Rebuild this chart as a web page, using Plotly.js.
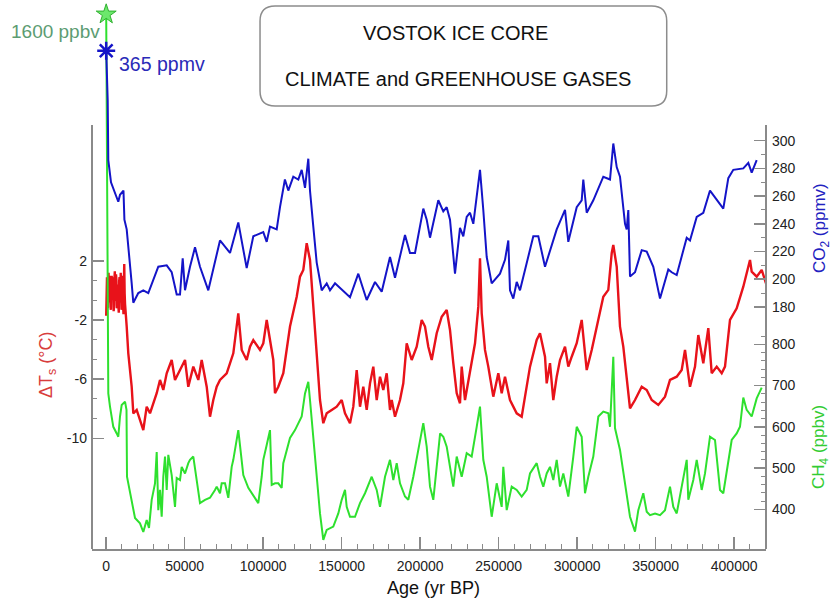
<!DOCTYPE html>
<html>
<head>
<meta charset="utf-8">
<script src="https://cdn.plot.ly/plotly-3.0.1.min.js"></script>
<style>html,body{margin:0;padding:0;background:#fff;}#chart{width:831px;height:600px;}</style>
</head>
<body>
<div id="chart"></div>
<script>
// ---- Data ----
const co2Age = [0,955,1340,3060,6690,7710,8790,11000,11600,13060,16240,17260,20450,23630,26820,30000,33190,38540,41720,44910,47010,48730,50200,53380,56570,59750,65040,72490,78860,84150,89500,93700,100070,102240,104340,108610,110710,113840,116000,119180,122370,124530,126640,128740,129820,131920,134090,137270,140460,142560,145750,155300,160590,165940,171230,175490,180780,183970,190340,193520,196710,202000,204160,206260,211550,214730,216900,219000,222180,225370,227470,229640,231740,233840,238110,240210,242380,245560,250850,254030,256140,257220,259320,261490,263590,272060,275250,279520,286970,292260,294360,299710,302890,303910,306080,310280,316650,320920,323020,325190,327290,330480,331560,332580,333660,336850,341120,344300,348510,352780,358060,360220,363410,369780,371880,376150,380350,384620,388890,393090,396280,399460,405830,409020,411180,414360];
const co2Val = [365,329,286,270,259,256,261,264,243,236,197,183,190,192,190,199,209,210,205,189,189,215,192,209,223,209,192,228,219,241,208,231,234,227,238,236,252,272,264,274,272,279,266,287,264,238,212,192,197,192,197,187,204,185,198,191,216,201,232,219,219,251,243,230,257,249,252,243,204,237,231,245,248,240,279,250,216,197,204,214,228,192,186,198,192,231,231,209,236,250,227,252,257,272,248,257,274,272,298,281,274,240,236,250,202,205,221,220,209,186,207,205,203,230,228,245,248,264,257,251,273,279,280,284,277,286];

const tempAge = [0,250,500,750,1000,1250,1500,1750,2000,2250,2500,2750,3000,3250,3500,3750,4000,4250,4500,4750,5000,5250,5500,5750,6000,6250,6500,6750,7000,7250,7500,7750,8000,8250,8500,8750,9000,9250,9500,9750,10000,10250,10500,10750,11000,11250,11500,11750,12000,13060,14080,16240,17260,19430,21530,23630,25800,27900,32170,34270,36370,38540,41720,43830,47010,50200,52300,55480,58670,60830,64020,66120,68220,70390,72490,76760,80960,84150,86310,89500,91600,93700,97970,100070,102240,104340,106440,107520,109630,112810,114980,117080,121350,123450,125550,127720,129820,131920,134090,135110,136190,138290,140460,143640,146830,150010,152120,155300,157400,159570,161670,163770,165940,168040,170140,172310,174410,176510,178680,180780,181860,183970,187150,189250,191420,194600,197790,200970,203080,205180,207350,210530,213710,216900,219000,221100,223270,225370,226450,228560,231740,234930,237030,238110,239190,241290,243390,246580,249770,251930,254030,257220,261490,264670,266780,269960,274230,276330,279520,280600,282700,284800,286970,289070,292260,294360,296530,299710,302890,305000,306080,309270,313470,316650,319840,322000,323020,325190,327290,329390,333660,336850,341120,344300,347490,351690,355960,359140,363410,366590,368700,371880,375070,377170,380350,383540,385700,388890,392070,394170,397360,401620,405830,410100,411180,414360,417550,420290];
const tempVal = [-1.7,0.2,0.9,-0.9,-1.2,0.6,1.2,-0.3,-0.8,1.0,0.5,-1.1,-1.3,0.3,1.0,-0.2,-0.6,0.9,0.6,-1.4,-1.0,0.8,1.3,-0.7,-0.4,1.1,0.7,-1.2,-1.1,0.2,0.4,-1.0,-1.5,0.6,0.9,-0.8,-0.5,1.2,0.2,-1.3,-1.2,0.3,1.0,-0.9,-1.6,0.5,1.8,-0.2,-0.9,-2.44,-4.25,-6.51,-8.31,-8.08,-8.76,-9.44,-7.86,-8.31,-6.95,-6.05,-6.73,-5.60,-4.70,-6.05,-5.38,-4.70,-6.51,-5.15,-6.05,-4.70,-6.51,-8.54,-7.41,-6.51,-6.05,-5.60,-4.25,-1.54,-4.02,-4.70,-3.80,-3.35,-4.02,-3.57,-1.99,-3.35,-4.70,-6.95,-6.51,-5.60,-4.02,-2.44,-0.42,0.94,1.39,3.20,2.07,-1.09,-4.02,-5.60,-7.41,-8.98,-8.31,-8.08,-7.86,-7.41,-8.31,-8.98,-7.86,-5.38,-7.86,-6.51,-8.08,-6.28,-5.15,-7.41,-5.83,-6.73,-5.60,-8.08,-7.41,-8.54,-7.41,-6.28,-3.57,-4.70,-3.80,-1.99,-2.44,-3.80,-4.70,-2.89,-1.77,-1.32,-2.67,-4.92,-6.95,-7.63,-5.15,-7.41,-5.38,-3.57,-1.09,2.18,-1.54,-4.02,-5.15,-7.18,-5.60,-6.95,-5.83,-7.41,-8.31,-8.54,-7.18,-5.15,-3.35,-2.89,-4.48,-6.28,-4.92,-7.41,-5.83,-4.70,-3.80,-5.15,-4.48,-3.57,-1.99,-4.02,-5.38,-4.02,-1.99,-0.42,0.04,2.52,3.08,1.61,-2.44,-3.80,-7.97,-7.41,-6.51,-6.73,-7.41,-7.74,-7.18,-6.05,-5.83,-5.38,-4.02,-6.51,-5.15,-3.01,-4.92,-2.55,-5.60,-5.15,-5.60,-5.15,-1.99,-1.20,0.26,2.07,1.28,0.94,1.39,0.49];

const ch4Age = [0,1000,1340,2420,4520,6690,7710,8790,9870,11980,12930,13250,14080,16240,18350,21530,23630,25800,27260,28980,31090,32170,33190,34270,35350,36370,37460,38540,39560,41720,42740,43830,44910,47010,48090,50200,52300,53380,55480,58670,59750,62940,66120,69300,70390,72490,73570,75680,77780,79940,80960,84150,87330,90520,93700,96890,99050,100070,102240,104340,105420,107520,109630,111780,112810,114980,117080,120270,122370,124530,126640,128740,129820,131920,134090,136190,138290,140460,144660,147850,150010,152120,153200,155300,158490,161670,164860,169120,172310,174410,177600,180780,182880,185050,187150,190340,192440,195620,198810,201990,204160,206260,208360,210530,212700,214730,216900,219000,221100,223270,226450,229640,232820,236010,238110,240210,242380,245560,248750,251930,252950,255120,258300,261490,264670,267860,269960,274230,276330,278430,280600,282700,284800,286970,289070,291170,294360,297540,299710,302890,305000,307100,310280,313470,316650,319840,320920,323020,324100,327290,330480,333660,336850,338950,342130,344300,346410,349600,352780,355960,359140,361240,363410,365510,369780,370800,373980,376150,379330,381440,384620,387800,390990,393090,396280,398440,401620,403720,405830,407990,411180,414360,417550];
const ch4Val = [1600,700,681,649,600,584,576,625,653,661,641,479,464,423,379,366,345,374,355,423,463,539,398,447,382,479,528,447,532,483,435,406,476,471,503,487,512,520,528,435,415,423,428,447,455,439,463,463,428,503,520,592,483,452,435,415,479,520,556,592,459,463,463,452,512,544,573,592,609,625,681,709,665,568,479,390,326,350,358,390,423,447,406,382,382,415,439,479,447,406,479,520,471,512,463,431,423,479,544,609,552,455,423,503,584,576,552,503,455,528,479,536,528,600,649,520,479,382,463,406,503,398,455,447,431,447,487,512,479,455,487,503,471,520,455,487,431,528,600,576,439,479,528,625,637,633,600,770,597,544,459,382,346,398,439,394,386,390,386,398,455,406,390,431,520,423,471,520,447,487,576,568,447,439,512,568,584,600,671,641,625,669,695];

// present-day markers
const starAge = [0];
const co2Now = [365];
const ch4Now = [1600];

// tick labels
const ageTicks = [0,50000,100000,150000,200000,250000,300000,350000,400000];
const ageTickText = ['0','50000','100000','150000','200000','250000','300000','350000','400000'];
const ageMinor = [10000,20000,30000,40000,60000,70000,80000,90000,110000,120000,130000,140000,160000,170000,180000,190000,210000,220000,230000,240000,260000,270000,280000,290000,310000,320000,330000,340000,360000,370000,380000,390000,410000];
const tempTicks = [2,-2,-6,-10];
const tempTickText = ['2','-2','-6','-10'];
const tempMinor = [0.667,-0.667,-3.333,-4.667,-7.333,-8.667];
const co2Ticks = [180,200,220,240,260,280,300];
const co2Minor = [190,210,230,250,270,290];
const ch4Ticks = [400,500,600,700,800];
const ch4Minor = [420,440,460,480,520,540,560,580,620,640,660,680,720,740,760,780,820];

const FONT = 'Liberation Sans, Arial, Helvetica, sans-serif';
const AX = '#8a8a8a';

// CH4 on y2 and CO2 on y3 so that the CO2 curve is painted above the CH4 curve
const traces = [
  {x: tempAge, y: tempVal, yaxis: 'y', mode: 'lines', line: {color: '#e8121a', width: 2.4}, hoverinfo: 'skip'},
  {x: ch4Age, y: ch4Val, yaxis: 'y2', mode: 'lines', line: {color: '#2ee02e', width: 2}, hoverinfo: 'skip'},
  {x: starAge, y: ch4Now, yaxis: 'y2', mode: 'markers', cliponaxis: false,
   marker: {symbol: 'star', size: 15, color: '#6ce86c', line: {color: '#2fb02f', width: 1}}, hoverinfo: 'skip'},
  {x: co2Age, y: co2Val, yaxis: 'y3', mode: 'lines', line: {color: '#1414c8', width: 2}, hoverinfo: 'skip'},
  {x: starAge, y: co2Now, yaxis: 'y3', mode: 'markers', cliponaxis: false,
   marker: {symbol: 'asterisk-open', size: 15, color: '#1414c8', line: {color: '#1414c8', width: 2.5}}, hoverinfo: 'skip'}
];

const tickFont = {family: FONT, size: 14, color: '#222'};

function rrect(x0, x1, y0, y1, rx, ry) {
  return `M ${x0+rx},${y1} L ${x1-rx},${y1} Q ${x1},${y1} ${x1},${y1-ry} L ${x1},${y0+ry} Q ${x1},${y0} ${x1-rx},${y0} L ${x0+rx},${y0} Q ${x0},${y0} ${x0},${y0+ry} L ${x0},${y1-ry} Q ${x0},${y1} ${x0+rx},${y1} Z`;
}

function note(x, y, text, size, color, extra) {
  return Object.assign({xref: 'paper', yref: 'paper', x: x, y: y, text: text, showarrow: false,
    xanchor: 'center', yanchor: 'middle', font: {family: FONT, size: size, color: color}}, extra || {});
}

const layout = {
  width: 831, height: 600,
  margin: {l: 92, r: 65, t: 5, b: 51},
  paper_bgcolor: '#fff', plot_bgcolor: '#fff',
  showlegend: false,
  xaxis: {
    range: [-9045, 420290], tickmode: 'array', tickvals: ageTicks, ticktext: ageTickText,
    ticks: 'inside', ticklen: 12, tickwidth: 1.5, tickcolor: AX,
    minor: {tickmode: 'array', tickvals: ageMinor, ticks: 'inside', ticklen: 5, tickwidth: 1, tickcolor: AX},
    showline: true, linecolor: AX, linewidth: 2, showgrid: false, zeroline: false,
    tickfont: tickFont, ticklabelstandoff: 3, fixedrange: true
  },
  yaxis: {
    range: [-17.49, 19.32], tickmode: 'array', tickvals: tempTicks, ticktext: tempTickText,
    ticks: 'inside', ticklen: 12, tickwidth: 1.5, tickcolor: AX,
    minor: {tickmode: 'array', tickvals: tempMinor, ticks: 'inside', ticklen: 5, tickwidth: 1, tickcolor: AX},
    showline: false, showgrid: false, zeroline: false, tickfont: tickFont, ticklabelstandoff: 4, fixedrange: true
  },
  yaxis2: {
    overlaying: 'y', side: 'right', anchor: 'x',
    range: [303.8, 1622.6], tickmode: 'array', tickvals: ch4Ticks,
    ticks: 'inside', ticklen: 12, tickwidth: 1.5, tickcolor: AX,
    minor: {tickmode: 'array', tickvals: ch4Minor, ticks: 'inside', ticklen: 5, tickwidth: 1, tickcolor: AX},
    showline: false, showgrid: false, zeroline: false, tickfont: tickFont, ticklabelstandoff: 5, fixedrange: true
  },
  yaxis3: {
    overlaying: 'y', side: 'right', anchor: 'x',
    range: [5.2, 398], tickmode: 'array', tickvals: co2Ticks,
    ticks: 'inside', ticklen: 12, tickwidth: 1.5, tickcolor: AX,
    minor: {tickmode: 'array', tickvals: co2Minor, ticks: 'inside', ticklen: 5, tickwidth: 1, tickcolor: AX},
    showline: false, showgrid: false, zeroline: false, tickfont: tickFont, ticklabelstandoff: 5, fixedrange: true
  },
  shapes: [
    {type: 'line', xref: 'paper', yref: 'paper', x0: 0, x1: 0, y0: 0, y1: 0.7794, line: {color: AX, width: 2}},
    {type: 'line', xref: 'paper', yref: 'paper', x0: 1, x1: 1, y0: 0, y1: 0.7794, line: {color: AX, width: 2}},
    {type: 'path', xref: 'paper', yref: 'paper', path: rrect(0.2493, 0.8527, 0.8143, 0.9982, 0.0223, 0.0276),
     line: {color: '#8c8c8c', width: 1.5}, fillcolor: 'rgba(0,0,0,0)'}
  ],
  annotations: [
    note(0.5386, 0.9485, 'VOSTOK ICE CORE', 20, '#111'),
    note(0.543, 0.864, 'CLIMATE and GREENHOUSE GASES', 20, '#111'),
    note(0.0148, 0.952, '1600 ppbv', 19, '#5c9c72', {xanchor: 'right'}),
    note(0.0371, 0.8915, '365 ppmv', 19.5, '#2a2ab8', {xanchor: 'left'}),
    note(-0.0668, 0.340, '\u0394T<sub>s</sub> (°C)', 18, '#d83c3c', {textangle: -90}),
    note(1.0816, 0.590, 'CO<sub>2</sub> (ppmv)', 17, '#2222c0', {textangle: -90}),
    note(1.0801, 0.1875, 'CH<sub>4</sub> (ppbv)', 17, '#33cc33', {textangle: -90}),
    note(0.506, -0.0717, 'Age (yr BP)', 18, '#111')
  ]
};

Plotly.newPlot('chart', traces, layout, {staticPlot: true, displayModeBar: false});
</script>
</body>
</html>
